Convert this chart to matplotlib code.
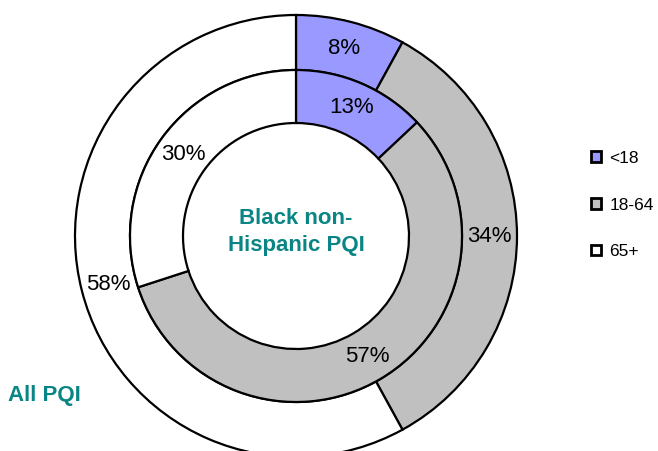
import matplotlib
matplotlib.use("Agg")
import matplotlib.pyplot as plt

categories = ["<18", "18-64", "65+"]
all_pqi = [8, 34, 58]
black_pqi = [13, 57, 30]
colors = ["#9999FF", "#C0C0C0", "#FFFFFF"]
teal = "#0A8585"

plt.rcParams['font.family'] = ['Liberation Sans', 'DejaVu Sans']

W, H = 658, 451
fig = plt.figure(figsize=(W / 100, H / 100), dpi=100)
ax = fig.add_axes([0, 0, 1, 1])

cx, cy = 296, H - 236
R_out, R_mid, R_hole = 221, 166, 113

wp = dict(edgecolor='black', linewidth=1.6)
wedges_out, _, _ = ax.pie(all_pqi, colors=colors, startangle=90, counterclock=False,
                          radius=R_out, center=(cx, cy), frame=True,
                          wedgeprops=dict(width=R_out - R_mid, **wp),
                          autopct='%d%%', pctdistance=1 - (R_out - R_mid) / 2 / R_out,
                          textprops=dict(fontsize=16, color='black'))
wedges_in, _, _ = ax.pie(black_pqi, colors=colors, startangle=90, counterclock=False,
                         radius=R_mid, center=(cx, cy), frame=True,
                         wedgeprops=dict(width=R_mid - R_hole, **wp),
                         autopct='%d%%', pctdistance=1 - (R_mid - R_hole) / 2 / R_mid,
                         textprops=dict(fontsize=16, color='black'))
ax.set_xlim(0, W)
ax.set_ylim(0, H)
ax.set_aspect('equal')
ax.axis('off')

ax.text(cx, H - 232, "Black non-\nHispanic PQI", ha='center', va='center',
        fontsize=16, fontweight='bold', color=teal, linespacing=1.35)
ax.text(8, H - 396, "All PQI", ha='left', va='center',
        fontsize=16, fontweight='bold', color=teal)

leg = ax.legend(wedges_out, categories, loc='center left',
                bbox_to_anchor=(582 / W, 1 - 205 / H), frameon=False,
                fontsize=12.5, handlelength=0.58, handleheight=0.58,
                handletextpad=0.5, labelspacing=1.82, borderpad=0)
for h in leg.legend_handles:
    h.set_linewidth(2)

fig.savefig("out.png", dpi=100)
